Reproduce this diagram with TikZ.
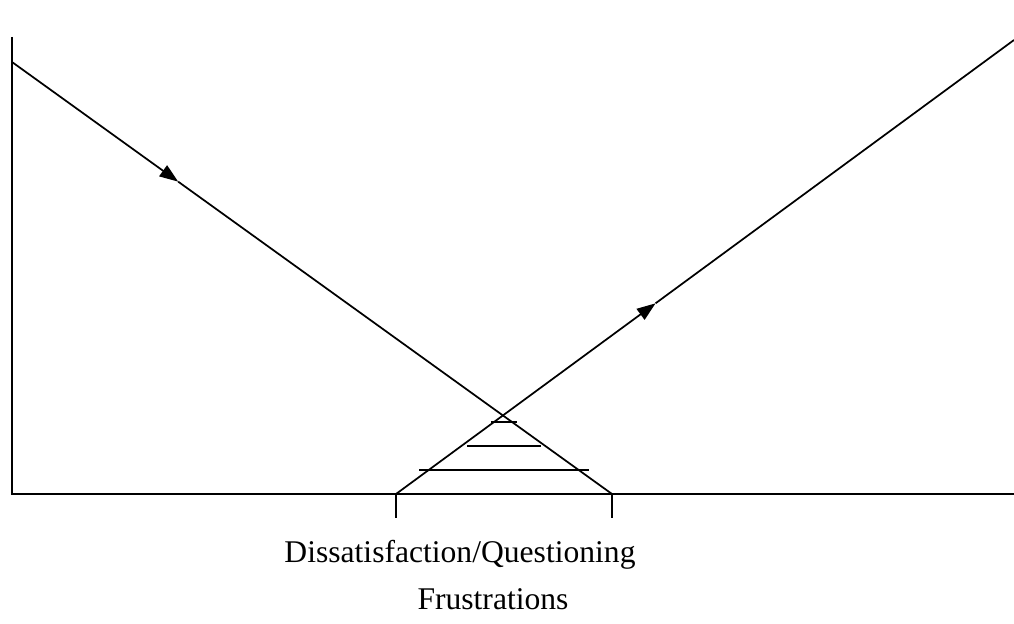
\documentclass[tikz,border=0pt]{standalone}
\usepackage{fontspec}
\setmainfont{Liberation Serif}
\usetikzlibrary{arrows.meta}

\begin{document}
\begin{tikzpicture}[x=0.75pt, y=-0.75pt,
  ln/.style={line width=1.3pt, line cap=butt},
  ar/.style={ln, -{Triangle[length=14pt, width=10pt]}},
  lbl/.style={font=\fontsize{23.7}{28}\selectfont, anchor=base, inner sep=0pt}]
  \useasboundingbox (0,0) rectangle (1014,624);
  % axes
  \coordinate (top) at (12,37);
  \coordinate (org) at (12,494);
  \coordinate (end) at (1014,494);
  \draw[ln] (top) -- (org) -- (end);
  % falling and rising lines
  \coordinate (a1) at (12,62);
  \coordinate (a2) at (612,494);
  \coordinate (b1) at (396,494);
  \coordinate (b2) at (1014,40);
  \path (a1) -- (a2) coordinate[pos=0.277] (am);
  \path (b1) -- (b2) coordinate[pos=0.42] (bm);
  \draw[ar] (a1) -- (am);
  \draw[ln] (am) -- (a2);
  \draw[ar] (b1) -- (bm);
  \draw[ln] (bm) -- (b2);
  % ticks
  \coordinate (t1) at (396,518);
  \coordinate (t2) at (612,518);
  \draw[ln] (b1) -- (t1);
  \draw[ln] (a2) -- (t2);
  % rungs
  \coordinate (r1l) at (491,422); \coordinate (r1r) at (517,422);
  \coordinate (r2l) at (467,446); \coordinate (r2r) at (541,446);
  \coordinate (r3l) at (419,470); \coordinate (r3r) at (589,470);
  \foreach \r in {r1,r2,r3}
    \draw[ln] (\r l) -- (\r r);
  % labels
  \node[lbl] (dq) at (460,562) {Dissatisfaction/Questioning};
  \node[lbl] (fr) at (493,609) {Frustrations};
\end{tikzpicture}
\end{document}
